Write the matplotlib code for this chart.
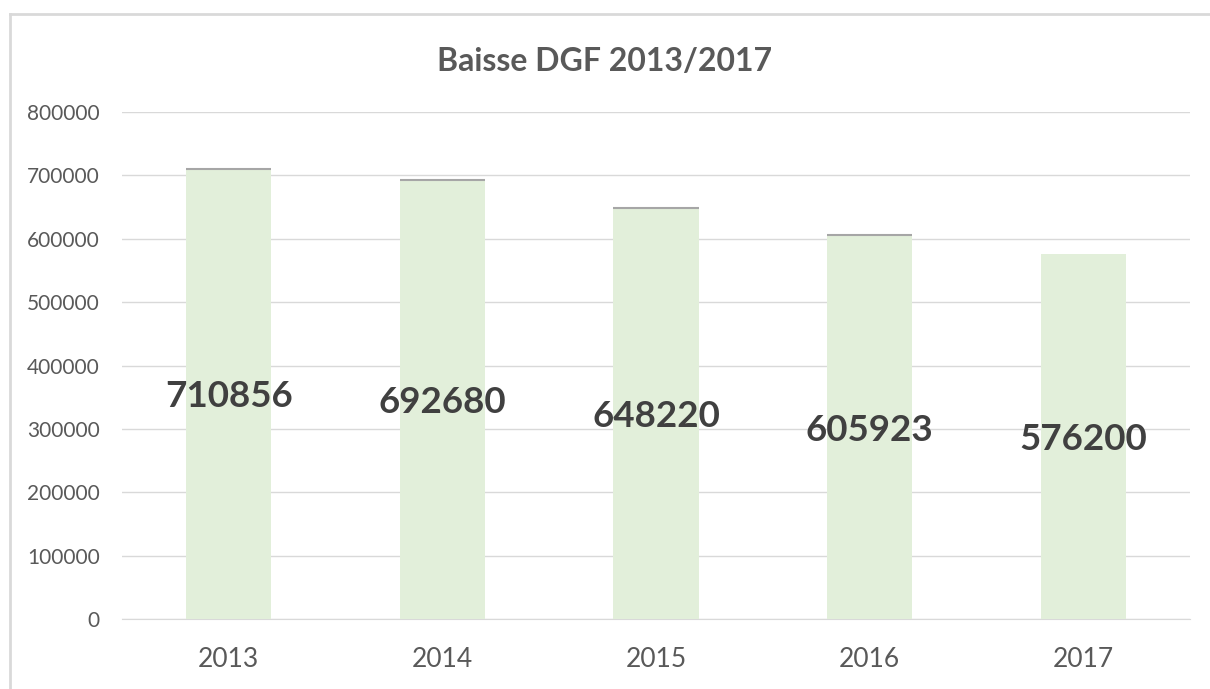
import matplotlib.pyplot as plt
from matplotlib.lines import Line2D

years = ['2013', '2014', '2015', '2016', '2017']
dgf = [710856, 692680, 648220, 605923, 576200]
yticks = [0, 100000, 200000, 300000, 400000, 500000, 600000, 700000, 800000]

plt.rcParams['font.family'] = ['Lato', 'DejaVu Sans']

fig = plt.figure(figsize=(12.1, 6.89), dpi=100)
ax = fig.add_axes([0.1008, 0.1016, 0.8827, 0.7358])

x = list(range(len(years)))
ax.bar(x, dgf, width=0.4, color='#E2EFDA', zorder=2)
# thin grey cap on top of the first bars
ax.hlines(dgf[:4], [i - 0.2 for i in x[:4]], [i + 0.2 for i in x[:4]],
          color='#A6A6A6', lw=1.5, zorder=3)

for i, v in zip(x, dgf):
    ax.text(i, v / 2, str(v), ha='center', va='center_baseline', fontsize=26.5,
            fontweight='bold', color='#404040', zorder=4)

ax.set_xlim(-0.5, 4.5)
ax.set_ylim(0, 800000)
ax.set_xticks(x)
ax.set_xticklabels(years)
ax.set_yticks(yticks)
ax.set_yticklabels([str(t) for t in yticks])
ax.tick_params(axis='x', length=0, pad=20, labelsize=19, labelcolor='#595959')
ax.tick_params(axis='y', length=0, pad=16, labelsize=15, labelcolor='#595959')
ax.grid(axis='y', color='#D9D9D9', lw=1, zorder=0)
for s in ['top', 'right', 'left']:
    ax.spines[s].set_visible(False)
ax.spines['bottom'].set_color('#D9D9D9')
ax.spines['bottom'].set_zorder(1)

fig.text(0.5, 0.911, 'Baisse DGF 2013/2017', ha='center', va='center',
         fontsize=23, fontweight='bold', color='#595959')

# chart area border (only top and left visible in the crop)
bx = 9.5 / 1210
by = 1 - 14 / 689
fig.add_artist(Line2D([bx, bx], [0, by], transform=fig.transFigure,
                      color='#D9D9D9', lw=2))
fig.add_artist(Line2D([bx, 1], [by, by], transform=fig.transFigure,
                      color='#D9D9D9', lw=2))

fig.savefig('out.png', dpi=100)
